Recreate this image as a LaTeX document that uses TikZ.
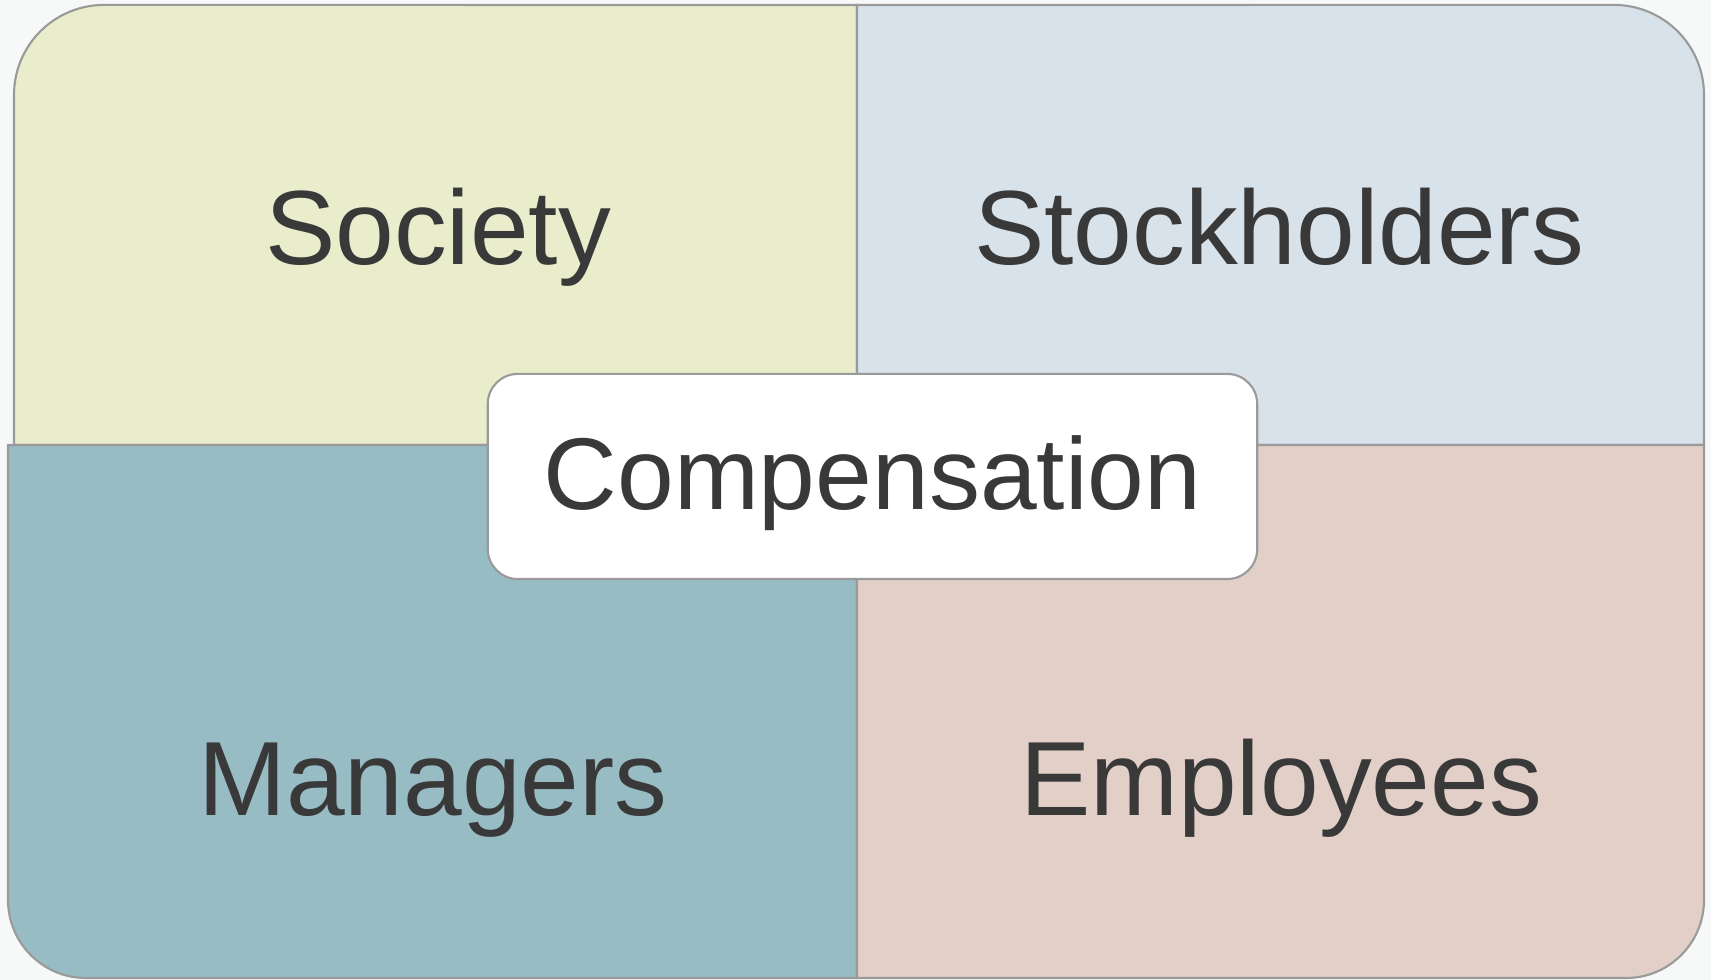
\documentclass[tikz,border=0pt]{standalone}
\usepackage{fontspec}
\setmainfont{Liberation Sans}
\usetikzlibrary{positioning}
\definecolor{pagebg}{HTML}{F7F8F8}
\definecolor{societyfill}{HTML}{E9EDCB}
\definecolor{stockfill}{HTML}{D8E2EB}
\definecolor{managerfill}{HTML}{97BCC4}
\definecolor{employeefill}{HTML}{E2CFC8}
\definecolor{edgegray}{HTML}{9A9A9A}
\definecolor{inkgray}{HTML}{3A3939}
\tikzset{%
	quad/.style     = {draw=edgegray, line width=0.6pt}, % quarter panel
	quadtext/.style = {text=inkgray, font=\fontsize{30}{36}\selectfont, anchor=base},
	hub/.style      = {draw=edgegray, line width=0.6pt, fill=white, rectangle, rounded corners=0.3cm,
	                   minimum width=7.69cm, minimum height=2.05cm, text=inkgray,
	                   font=\fontsize{29}{35}\selectfont, text height=25pt, text depth=6pt},
}

\begin{document}
\begin{tikzpicture}[x=0.01cm, y=0.01cm]
	\fill[pagebg] (0,0) rectangle (1711,980);
	\useasboundingbox (0,0) rectangle (1711,980);
	% quarter panels
	\filldraw[quad, fill=societyfill] (857,535) -- (14,535) -- (14,885)
		arc[start angle=180, end angle=90, radius=0.9cm] -- (857,975) -- cycle;
	\filldraw[quad, fill=stockfill] (857,535) -- (1704,535) -- (1704,885)
		arc[start angle=0, end angle=90, radius=0.9cm] -- (857,975) -- cycle;
	\filldraw[quad, fill=managerfill] (857,535) -- (8,535) -- (8,80)
		arc[start angle=180, end angle=270, radius=0.78cm] -- (857,2) -- cycle;
	\filldraw[quad, fill=employeefill] (857,535) -- (1704,535) -- (1704,80)
		arc[start angle=0, end angle=-90, radius=0.78cm] -- (857,2) -- cycle;
	% labels
	\node[quadtext] (society) at (438,715) {Society};
	\node[quadtext] (stock) at (1279,715) {Stockholders};
	\node[quadtext] (managers) at (433,164) {Managers};
	\node[quadtext] (employees) at (1281,164) {Employees};
	\node[hub] (comp) at (872.5,503.5) {Compensation};
\end{tikzpicture}
\end{document}
